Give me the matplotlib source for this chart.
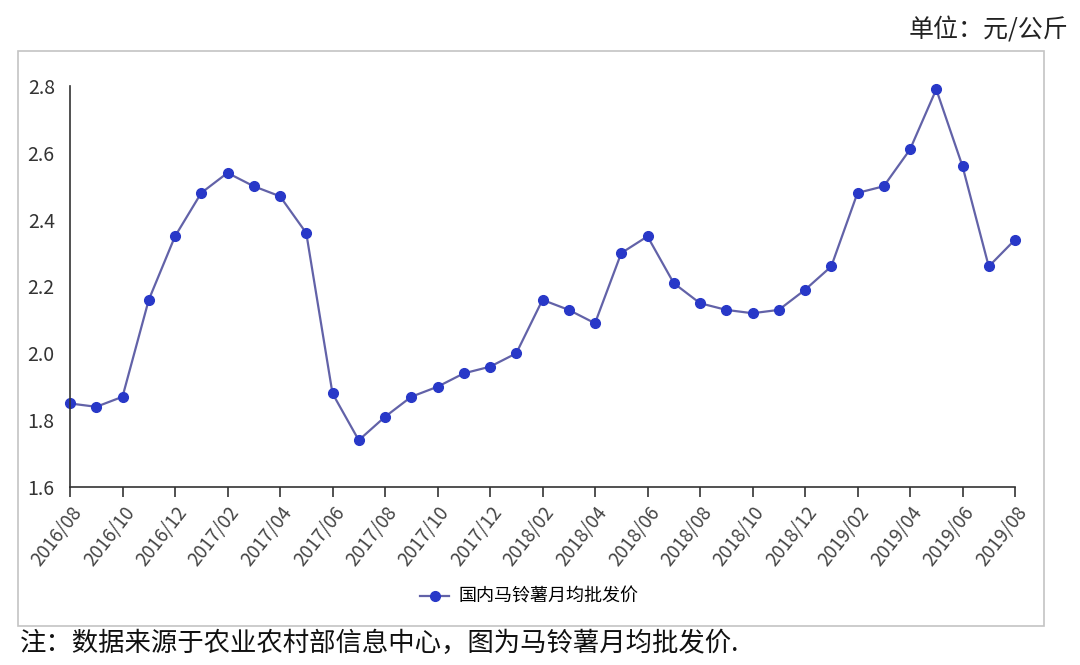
import matplotlib.pyplot as plt
from matplotlib.patches import Rectangle

plt.rcParams['font.family'] = ['Noto Sans CJK SC', 'DejaVu Sans']

# monthly labels 2016/08 .. 2019/08
months = []
for y in range(2016, 2020):
    for m in range(1, 13):
        if (y == 2016 and m < 8) or (y == 2019 and m > 8):
            continue
        months.append(f"{y}/{m:02d}")

prices = [1.85, 1.84, 1.87, 2.16, 2.35, 2.48, 2.54, 2.50, 2.47, 2.36,
          1.88, 1.74, 1.81, 1.87, 1.90, 1.94, 1.96, 2.00, 2.16, 2.13,
          2.09, 2.30, 2.35, 2.21, 2.15, 2.13, 2.12, 2.13, 2.19, 2.26,
          2.48, 2.50, 2.61, 2.79, 2.56, 2.26, 2.34]

series_name = "国内马铃薯月均批发价"
unit_text = "单位：元/公斤"
note_text = "注：数据来源于农业农村部信息中心，图为马铃薯月均批发价."


def main():
    fig = plt.figure(figsize=(10.8, 6.65), dpi=100)

    # light gray frame around the chart area
    fig.patches.append(Rectangle((18 / 1080, 1 - 626 / 665),
                                 (1044 - 18) / 1080, (626 - 51) / 665,
                                 transform=fig.transFigure, fill=False,
                                 edgecolor='#c4c4c4', linewidth=1.2))

    ax = fig.add_axes([70 / 1080, 1 - 487 / 665, (1015 - 70) / 1080, (487 - 86) / 665])
    x = list(range(len(months)))
    ax.plot(x, prices, color='#6262a8', linewidth=1.6, marker='o',
            markersize=7, markerfacecolor='#2838c8', markeredgecolor='#2838c8',
            label=series_name, clip_on=False)

    ax.set_xlim(0, len(months) - 1)
    ax.set_ylim(1.6, 2.8)
    ax.set_yticks([1.6, 1.8, 2.0, 2.2, 2.4, 2.6, 2.8])
    ax.set_yticklabels([f"{v:.1f}" for v in [1.6, 1.8, 2.0, 2.2, 2.4, 2.6, 2.8]])
    ax.set_xticks(x[::2])
    ax.set_xticklabels(months[::2], rotation=52, ha='right', rotation_mode='anchor')

    for side in ['top', 'right']:
        ax.spines[side].set_visible(False)
    for side in ['left', 'bottom']:
        ax.spines[side].set_color('#333333')
        ax.spines[side].set_linewidth(1.2)

    ax.tick_params(axis='y', length=0, pad=11, labelsize=14, labelcolor='#333333')
    ax.tick_params(axis='x', length=7, width=1.2, direction='out', color='#333333',
                   pad=4, labelsize=13.5, labelcolor='#444444')

    fig.legend(loc='center', bbox_to_anchor=(0.49, 1 - 597 / 665), frameon=False,
               fontsize=13, handlelength=1.6, handletextpad=0.5)

    fig.text(1068 / 1080, 1 - 30 / 665, unit_text, ha='right', va='center',
             fontsize=18, color='#222222')
    fig.text(20 / 1080, 1 - 643 / 665, note_text, ha='left', va='center',
             fontsize=19, color='#111111')

    fig.savefig('out.png', dpi=100, facecolor='white')


if __name__ == '__main__':
    main()
